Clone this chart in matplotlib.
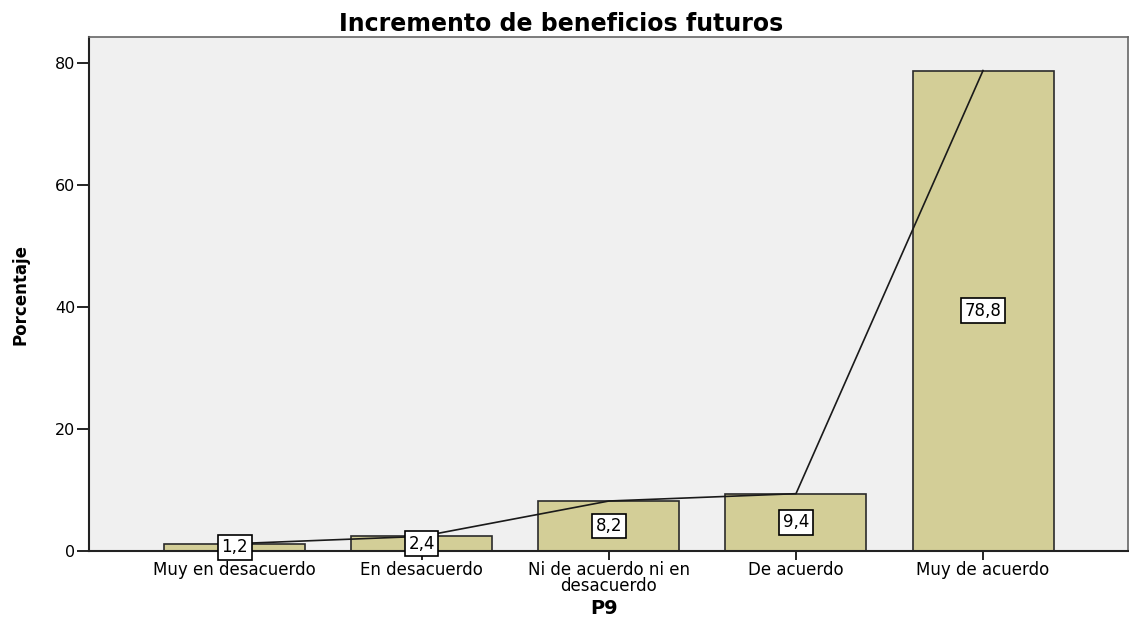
import numpy as np
import matplotlib.pyplot as plt

categories = ["Muy en desacuerdo", "En desacuerdo", "Ni de acuerdo ni en\ndesacuerdo",
              "De acuerdo", "Muy de acuerdo"]
percent = [1.2, 2.4, 8.2, 9.4, 78.8]
labels = ["1,2", "2,4", "8,2", "9,4", "78,8"]
yticks = [0, 20, 40, 60, 80]

plt.rcParams['font.family'] = ['DejaVu Sans']

fig = plt.figure(figsize=(11.29, 6.2), dpi=100)
ax = fig.add_axes([0.0788, 0.1113, 0.9203, 0.829])
ax.set_facecolor('#f0f0f0')

x = np.arange(len(categories))
ax.bar(x, percent, width=0.754, color='#d3ce97', edgecolor='#2b2b2b', linewidth=1.2, zorder=2)
ax.plot(x, percent, color='#1a1a1a', linewidth=1.2, zorder=3)

for xi, v, lab in zip(x, percent, labels):
    ax.text(xi, v / 2, lab, ha='center', va='center', fontsize=12, zorder=4,
            bbox=dict(boxstyle='square,pad=0.2', facecolor='white', edgecolor='black', linewidth=1.2))

ax.set_xlim(-0.78, 4.775)
ax.set_ylim(0, 84.3)
ax.set_xticks(x)
ax.set_xticklabels(categories, fontsize=12, linespacing=0.85)
ax.set_yticks(yticks)
ax.tick_params(axis='y', length=9, width=1.2, labelsize=11.5, pad=1)
ax.tick_params(axis='x', length=6.5, width=1.2, labelsize=12, pad=1)

for s in ['left', 'bottom']:
    ax.spines[s].set_linewidth(1.5)
    ax.spines[s].set_color('#222222')
for s in ['top', 'right']:
    ax.spines[s].set_linewidth(1.2)
    ax.spines[s].set_color('#666666')

ax.set_ylabel("Porcentaje", fontsize=12, fontweight='bold', labelpad=18)
fig.text(0.535, 0.019, "P9", ha='center', va='center', fontsize=14, fontweight='bold')
fig.text(0.497, 0.962, "Incremento de beneficios futuros", ha='center', va='center',
         fontsize=17, fontweight='bold')

fig.savefig('out.png', dpi=100)
